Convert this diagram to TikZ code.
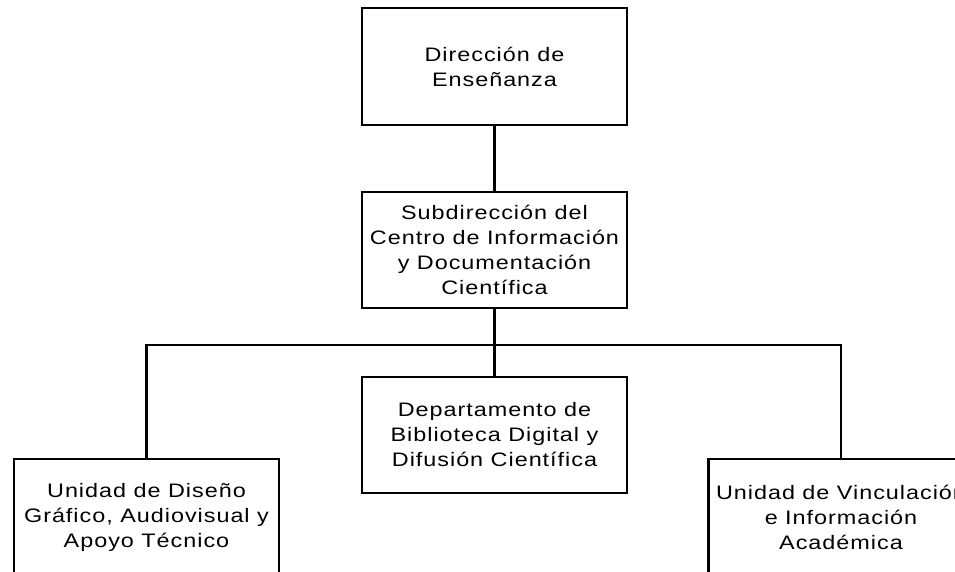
\documentclass[tikz,border=0pt]{standalone}
\usepackage{fontspec}
\setmainfont{Liberation Sans}[FakeStretch=1.2,LetterSpace=5]
\begin{document}
\begin{tikzpicture}[x=1pt,y=-1pt,
  orgbox/.style={draw=black,line width=2.6pt,fill=white,minimum width=265pt,minimum height=116pt,
    align=center,inner sep=0pt,font=\fontsize{19.5pt}{25pt}\selectfont},
  link/.style={draw=black,line width=2.6pt}]
\clip (0,0) rectangle (955,572);
\fill[white] (0,0) rectangle (955,572);
\node[orgbox,minimum height=117pt] (top) at (494.5,66.5) {Dirección de\\Enseñanza};
\node[orgbox] (sub) at (494.5,250) {Subdirección del\\Centro de Información\\y Documentación\\Científica};
\node[orgbox] (dept) at (494.5,435) {Departamento de\\Biblioteca Digital y\\Difusión Científica};
\node[orgbox] (left) at (146.5,517) {Unidad de Diseño\\Gráfico, Audiovisual y\\Apoyo Técnico};
\node[orgbox] (right) at (841,517) {Unidad de Vinculación\\e Información\\Académica};
\coordinate (bus) at (494.5,345);
\draw[link] (top.south) -- (sub.north);
\draw[link] (sub.south) -- (bus);
\draw[link] (bus) -- (dept.north);
\draw[link,line join=miter] (left.north) -- (left.north |- bus) -- (right.north |- bus) -- (right.north);
\end{tikzpicture}
\end{document}
